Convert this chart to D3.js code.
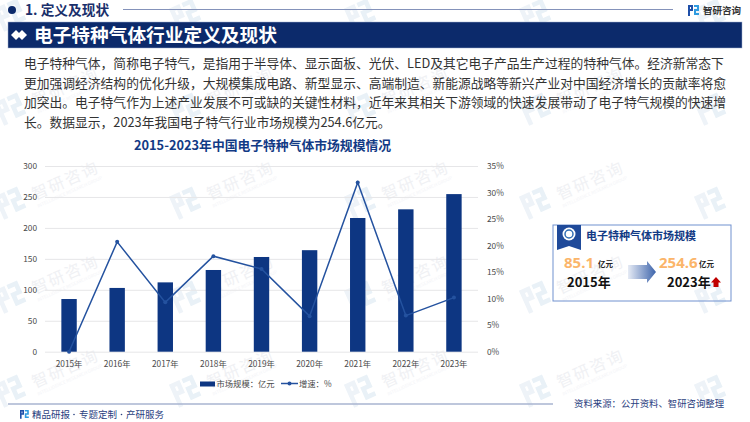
<!DOCTYPE html>
<html>
<head>
<meta charset="utf-8">
<script src="https://cdn.jsdelivr.net/npm/d3@7"></script>
<style>
  html, body { margin: 0; padding: 0; background: #fff; }
  svg { display: block; font-family: "Noto Sans CJK SC", sans-serif; }
</style>
</head>
<body>
<svg id="chart" width="750" height="422"></svg>
<script>
var years = ['2015年', '2016年', '2017年', '2018年', '2019年', '2020年', '2021年', '2022年', '2023年'];
var marketSize = [85.1, 103, 112, 132, 153, 164, 216, 230, 254.6];
var growth = [0, 20.7, 9.3, 18, 15.6, 6.7, 31.9, 6.8, 10.2];
var leftTicks = [0, 50, 100, 150, 200, 250, 300];
var rightTicks = [0, 5, 10, 15, 20, 25, 30, 35];
var bodyLines = [
  '电子特种气体，简称电子特气，是指用于半导体、显示面板、光伏、LED及其它电子产品生产过程的特种气体。经济新常态下',
  '更加强调经济结构的优化升级，大规模集成电路、新型显示、高端制造、新能源战略等新兴产业对中国经济增长的贡献率将愈',
  '加突出。电子特气作为上述产业发展不可或缺的关键性材料，近年来其相关下游领域的快速发展带动了电子特气规模的快速增',
  '长。数据显示，2023年我国电子特气行业市场规模为254.6亿元。'
];
var footerParts = ['精品研报', '专题定制', '产研服务'];

var svg = d3.select('#chart');
var navy = '#0c2a6b',
    barBlue = '#0d3682',
    lineBlue = '#24529f';

var defs = svg.append('defs');
var grad = defs.append('linearGradient').attr('id', 'arrowFill');
grad.append('stop').attr('offset', '0%').attr('stop-color', '#e6ebf5');
grad.append('stop').attr('offset', '100%').attr('stop-color', '#3d64ab');

// the little company mark, used in the watermark and in the header/footer
function logo(g, s, c1, c2) {
  g.append('path')
    .attr('fill', c1)
    .attr('d', 'M0,0H' + 5*s + 'V' + 6*s + 'H' + 2*s + 'V' + 11*s + 'H0Z M' + 2*s + ',' + 2*s + 'V' + 4*s + 'H' + 3*s + 'V' + 2*s + 'Z');
  g.append('path')
    .attr('fill', c2)
    .attr('d', 'M' + 6*s + ',0H' + 11*s + 'V' + 6*s + 'H' + 8*s + 'V' + 8*s + 'H' + 11*s + 'V' + 10*s + 'H' + 6*s + 'V' + 4*s + 'H' + 9*s + 'V' + 2*s + 'H' + 6*s + 'Z');
}

// Watermark grid sits under everything else. Characters are placed one by one
// so those that would hang off the page can be left out.
var wmark = svg.append('g').attr('class', 'watermarks');
var wmAngle = -24 * Math.PI / 180;
[27, 121, 215, 309, 403].forEach(function(rowY) {
  [2, 177, 352, 527, 702].forEach(function(colX) {
    var g = wmark.append('g')
      .attr('transform', 'translate(' + colX + ',' + rowY + ') rotate(-24)');
    logo(g.append('g').attr('transform', 'translate(0,-20)'), 2.3, '#eef3f8', '#e9f1f7');
    '智研咨询'.split('').forEach(function(ch, i) {
      var along = 36 + i * 18,
          px = colX + along * Math.cos(wmAngle),
          py = rowY + along * Math.sin(wmAngle);
      if (px + 18 > 748 || py - 22 < 1) { return; }
      g.append('text')
        .attr('x', along).attr('y', 0)
        .attr('font-size', 16)
        .attr('fill', '#f0f1f4')
        .text(ch);
    });
    if (colX + 100 < 740 && rowY > 60) {
      g.append('text')
        .attr('x', 36).attr('y', 8)
        .attr('font-size', 4.5)
        .attr('fill', '#f3f4f7')
        .text('INTELLIGENCE RESEARCH GROUP');
    }
  });
});

// Header
svg.append('circle').attr('cx', 12).attr('cy', 10).attr('r', 4).attr('fill', navy);
svg.append('text').attr('x', 25).attr('y', 15)
  .attr('font-size', 13.7).attr('font-weight', 700).attr('fill', '#1a2f6b')
  .text('1. 定义及现状');
svg.append('line').attr('x1', 123).attr('x2', 673).attr('y1', 9.5).attr('y2', 9.5)
  .attr('stroke', '#8492ba').attr('stroke-width', 1);
logo(svg.append('g').attr('transform', 'translate(688,5)'), 1, '#1f4fa8', '#2e9be0');
svg.append('text').attr('x', 703).attr('y', 13.5)
  .attr('font-size', 9.5).attr('font-weight', 700).attr('fill', '#333')
  .text('智研咨询');

// Title band
svg.append('rect').attr('x', 8).attr('y', 22).attr('width', 734).attr('height', 26)
  .attr('fill', navy).attr('stroke', '#9fb0d0').attr('stroke-width', 0.5);
[16, 22].forEach(function(cx) {
  svg.append('path')
    .attr('d', 'M' + (cx - 5) + ',35L' + cx + ',30L' + (cx + 5) + ',35L' + cx + ',40Z')
    .attr('fill', '#fff');
});
svg.append('text').attr('x', 34).attr('y', 41.5)
  .attr('font-size', 18.7).attr('font-weight', 700).attr('fill', '#fff')
  .text('电子特种气体行业定义及现状');

// Body text
svg.append('g').selectAll('text')
  .data(bodyLines)
  .enter().append('text')
  .attr('x', 24)
  .attr('y', function(d, i) { return 68 + i * 19.6; })
  .attr('font-size', 12.78)
  .attr('fill', '#333')
  .text(function(d) { return d; });

// Chart
svg.append('text').attr('x', 262.5).attr('y', 150)
  .attr('text-anchor', 'middle')
  .attr('font-size', 12.8).attr('font-weight', 700).attr('fill', '#123a85')
  .text('2015-2023年中国电子特种气体市场规模情况');

var x = d3.scaleBand().domain(years).range([45, 478]).paddingInner(0.68).paddingOuter(0.34);
var y = d3.scaleLinear().domain([0, 300]).range([351.7, 166]);
var y2 = d3.scaleLinear().domain([0, 35]).range([351.7, 166]);

function styleTicks(axis) {
  axis.select('.domain').remove();
  axis.selectAll('text').attr('font-size', 8.3).attr('fill', '#4a4a4a').attr('font-family', '"Noto Sans CJK SC", sans-serif');
}

var leftAxis = svg.append('g')
  .attr('transform', 'translate(45,0)')
  .call(d3.axisLeft(y).tickValues(leftTicks).tickSize(-433).tickPadding(8));
styleTicks(leftAxis);
leftAxis.selectAll('line').attr('stroke', '#e6e6e8').attr('stroke-width', 1);

var rightAxis = svg.append('g')
  .attr('transform', 'translate(478,0)')
  .call(d3.axisRight(y2).tickValues(rightTicks).tickSize(0).tickPadding(9).tickFormat(function(d) { return d + '%'; }));
styleTicks(rightAxis);

var bottomAxis = svg.append('g')
  .attr('transform', 'translate(0,351.7)')
  .call(d3.axisBottom(x).tickSize(0).tickPadding(9));
styleTicks(bottomAxis);

svg.append('g').selectAll('rect')
  .data(marketSize)
  .enter().append('rect')
  .attr('x', function(d, i) { return x(years[i]); })
  .attr('y', function(d) { return y(d); })
  .attr('width', x.bandwidth())
  .attr('height', function(d) { return y(0) - y(d); })
  .attr('fill', barBlue);

var growthLine = d3.line()
  .x(function(d, i) { return x(years[i]) + x.bandwidth() / 2; })
  .y(function(d) { return y2(d); });

svg.append('path').datum(growth)
  .attr('d', growthLine)
  .attr('fill', 'none')
  .attr('stroke', lineBlue)
  .attr('stroke-width', 1.5);

svg.append('g').selectAll('circle')
  .data(growth)
  .enter().append('circle')
  .attr('cx', function(d, i) { return x(years[i]) + x.bandwidth() / 2; })
  .attr('cy', function(d) { return y2(d); })
  .attr('r', 2)
  .attr('fill', lineBlue);

// Legend
svg.append('rect').attr('x', 200).attr('y', 381.5).attr('width', 15).attr('height', 5).attr('fill', barBlue);
svg.append('text').attr('x', 216.5).attr('y', 387).attr('font-size', 8.3).attr('fill', '#4a4a4a').text('市场规模：亿元');
svg.append('line').attr('x1', 281).attr('x2', 298).attr('y1', 383.5).attr('y2', 383.5).attr('stroke', lineBlue).attr('stroke-width', 1.5);
svg.append('circle').attr('cx', 289.5).attr('cy', 383.5).attr('r', 2).attr('fill', lineBlue);
svg.append('text').attr('x', 299).attr('y', 387).attr('font-size', 8.3).attr('fill', '#4a4a4a').text('增速：%');

// Summary box
svg.append('rect').attr('x', 553).attr('y', 225).attr('width', 178).attr('height', 76)
  .attr('fill', 'none').attr('stroke', '#7091cf').attr('stroke-width', 1);
svg.append('path').attr('d', 'M557,225H581V250L569,246L557,250Z').attr('fill', '#1f4a9a');
svg.append('circle').attr('cx', 569).attr('cy', 234).attr('r', 6.5).attr('fill', '#fff');
svg.append('circle').attr('cx', 569).attr('cy', 234).attr('r', 4).attr('fill', 'none').attr('stroke', '#2f6db5').attr('stroke-width', 1.5);
svg.append('text').attr('x', 586).attr('y', 240).attr('font-size', 11).attr('font-weight', 700).attr('fill', '#123a85')
  .text('电子特种气体市场规模');

svg.append('text').attr('x', 564).attr('y', 268).attr('font-family', '"Open Sans"').attr('font-size', 15).attr('font-weight', 700).attr('fill', '#fbb56a').text('85.1');
svg.append('text').attr('x', 598).attr('y', 267).attr('font-size', 7.5).attr('font-weight', 700).attr('fill', '#222').text('亿元');
svg.append('text').attr('x', 567).attr('y', 287).attr('font-size', 13).attr('font-weight', 700).attr('fill', '#111').text('2015年');
svg.append('path').attr('d', 'M628,265H647V261L656,272L647,283V279H628Z').attr('fill', 'url(#arrowFill)');
svg.append('text').attr('x', 659).attr('y', 268).attr('font-family', '"Open Sans"').attr('font-size', 15).attr('font-weight', 700).attr('fill', '#fbb56a').text('254.6');
svg.append('text').attr('x', 699).attr('y', 267).attr('font-size', 7.5).attr('font-weight', 700).attr('fill', '#222').text('亿元');
svg.append('text').attr('x', 667).attr('y', 287).attr('font-size', 13).attr('font-weight', 700).attr('fill', '#111').text('2023年');
svg.append('path').attr('d', 'M716,277L721,282.5H718.5V287H713.5V282.5H711Z').attr('fill', '#c00000');

// Footer
svg.append('line').attr('x1', 8).attr('x2', 553).attr('y1', 404).attr('y2', 404)
  .attr('stroke', '#a8b4d0').attr('stroke-width', 1.5);
logo(svg.append('g').attr('transform', 'translate(20,410)'), 0.8, '#1f4fa8', '#2e9be0');
footerParts.forEach(function(part, i) {
  svg.append('text').attr('x', 32 + i * 47).attr('y', 418)
    .attr('font-size', 9.5).attr('fill', '#2a4080')
    .text(part);
  if (i < footerParts.length - 1) {
    svg.append('circle').attr('cx', 74 + i * 47.5).attr('cy', 414.5).attr('r', 0.8).attr('fill', '#2a4080');
  }
});
svg.append('text').attr('x', 574).attr('y', 407)
  .attr('font-size', 9.4).attr('fill', '#2a4080')
  .text('资料来源：公开资料、智研咨询整理');
</script>
</body>
</html>
